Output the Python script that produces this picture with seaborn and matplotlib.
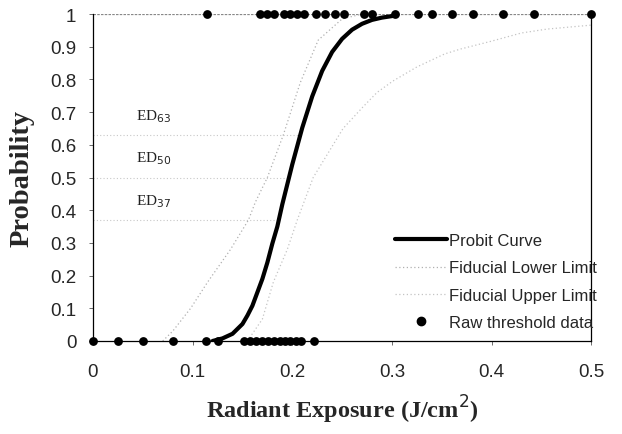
import matplotlib
matplotlib.use("Agg")
import matplotlib.pyplot as plt
import seaborn as sns
import pandas as pd
from matplotlib.lines import Line2D

# ---- data ----
probit_x = [0.120, 0.130, 0.140, 0.150, 0.155, 0.160, 0.170, 0.175, 0.180, 0.185, 0.190,
            0.200, 0.210, 0.220, 0.230, 0.240, 0.250, 0.260, 0.270, 0.280, 0.290, 0.303]
probit_p = [0.000, 0.008, 0.022, 0.052, 0.078, 0.108, 0.190, 0.240, 0.298, 0.350, 0.418,
            0.540, 0.652, 0.748, 0.826, 0.884, 0.924, 0.952, 0.970, 0.982, 0.989, 0.995]

lower_x = [0.070, 0.080, 0.098, 0.115, 0.138, 0.156, 0.163, 0.175, 0.191, 0.208, 0.226, 0.250, 0.270]
lower_p = [0.000, 0.030, 0.100, 0.180, 0.280, 0.370, 0.425, 0.500, 0.630, 0.790, 0.920, 0.985, 1.000]

upper_x = [0.155, 0.170, 0.181, 0.195, 0.205, 0.221, 0.236, 0.251, 0.271, 0.285, 0.301,
           0.325, 0.353, 0.369, 0.400, 0.430, 0.456, 0.500]
upper_p = [0.000, 0.067, 0.180, 0.280, 0.370, 0.500, 0.575, 0.650, 0.716, 0.760, 0.795,
           0.838, 0.878, 0.893, 0.917, 0.942, 0.954, 0.966]

raw_x_zero = [0.0, 0.025, 0.050, 0.080, 0.113, 0.125, 0.152, 0.158, 0.164, 0.170, 0.176,
              0.182, 0.188, 0.193, 0.198, 0.204, 0.209, 0.222]
raw_x_one = [0.114, 0.168, 0.175, 0.182, 0.192, 0.198, 0.205, 0.212, 0.224, 0.233, 0.243,
             0.252, 0.272, 0.280, 0.303, 0.326, 0.340, 0.360, 0.381, 0.411, 0.443, 0.500]

ed_labels = ["ED$_{63}$", "ED$_{50}$", "ED$_{37}$"]
ed_levels = [0.63, 0.50, 0.37]
ed_x = [0.208, 0.197, 0.186]

x_ticks = [0, 0.1, 0.2, 0.3, 0.4, 0.5]
x_ticklabels = ["0", "0.1", "0.2", "0.3", "0.4", "0.5"]
y_ticks = [0, 0.1, 0.2, 0.3, 0.4, 0.5, 0.6, 0.7, 0.8, 0.9, 1]
y_ticklabels = ["0", "0.1", "0.2", "0.3", "0.4", "0.5", "0.6", "0.7", "0.8", "0.9", "1"]

# ---- build tables ----
df_probit = pd.DataFrame({"x": probit_x, "p": probit_p})
df_lower = pd.DataFrame({"x": lower_x, "p": lower_p})
df_upper = pd.DataFrame({"x": upper_x, "p": upper_p})
df_raw = pd.DataFrame({
    "x": raw_x_zero + raw_x_one,
    "p": [0.0] * len(raw_x_zero) + [1.0] * len(raw_x_one),
})

sns.set_style("ticks")
plt.rcParams["font.family"] = ["Liberation Sans", "DejaVu Sans"]

fig = plt.figure(figsize=(6.22, 4.35), dpi=100)
ax = fig.add_axes([0.1495, 0.2138, 0.8010, 0.7517])

# ED reference lines
for lvl, xe, lab in zip(ed_levels, ed_x, ed_labels):
    ax.hlines(lvl, 0, xe, colors="#c8c8c8", linestyles=(0, (1, 2)), linewidth=0.8, zorder=1)
    ax.text(0.043, lvl + 0.035, lab, fontsize=11, family=["Liberation Serif"],
            ha="left", va="bottom", color="#222222")

# top line at probability 1
ax.axhline(1.0, color="#888888", linestyle=(0, (2, 1)), linewidth=0.9, zorder=1)

sns.lineplot(data=df_lower, x="x", y="p", ax=ax, color="#b0b0b0",
             linestyle=(0, (1, 2)), linewidth=0.9, sort=False, zorder=2)
sns.lineplot(data=df_upper, x="x", y="p", ax=ax, color="#c4c4c4",
             linestyle=(0, (1, 2)), linewidth=0.9, sort=False, zorder=2)
sns.lineplot(data=df_probit, x="x", y="p", ax=ax, color="black",
             linewidth=3.0, sort=False, zorder=3)
sns.scatterplot(data=df_raw, x="x", y="p", ax=ax, color="black", s=40,
                edgecolor="black", linewidth=0, zorder=4, clip_on=False)

ax.set_xlim(0, 0.5)
ax.set_ylim(0, 1)
ax.set_xticks(x_ticks)
ax.set_xticklabels(x_ticklabels)
ax.set_yticks(y_ticks)
ax.set_yticklabels(y_ticklabels)
ax.tick_params(axis="both", labelsize=13.5, length=3, width=0.6, color="#555555")
ax.tick_params(axis="x", pad=13)
ax.tick_params(axis="y", pad=9)

for side in ["left", "right", "bottom"]:
    ax.spines[side].set_visible(True)
    ax.spines[side].set_color("black")
    ax.spines[side].set_linewidth(0.9)
ax.spines["top"].set_visible(False)

ax.set_xlabel("Radiant Exposure (J/cm$^2$)", fontsize=17.5, fontweight="bold",
              family=["Liberation Serif"], labelpad=9)
ax.set_ylabel("Probability", fontsize=20.5, fontweight="bold",
              family=["Liberation Serif"], labelpad=11)

handles = [
    Line2D([], [], color="black", linewidth=3.0),
    Line2D([], [], color="#b0b0b0", linestyle=(0, (1, 2)), linewidth=0.9),
    Line2D([], [], color="#c4c4c4", linestyle=(0, (1, 2)), linewidth=0.9),
    Line2D([], [], color="black", marker="o", linestyle="none", markersize=6),
]
labels = ["Probit Curve", "Fiducial Lower Limit", "Fiducial Upper Limit", "Raw threshold data"]
ax.legend(handles, labels, loc="upper left", bbox_to_anchor=(0.606, 0.33),
          frameon=False, fontsize=12, handlelength=3.1, handletextpad=0.15,
          labelspacing=0.74, borderpad=0, borderaxespad=0)

fig.savefig("out.png", dpi=100)
